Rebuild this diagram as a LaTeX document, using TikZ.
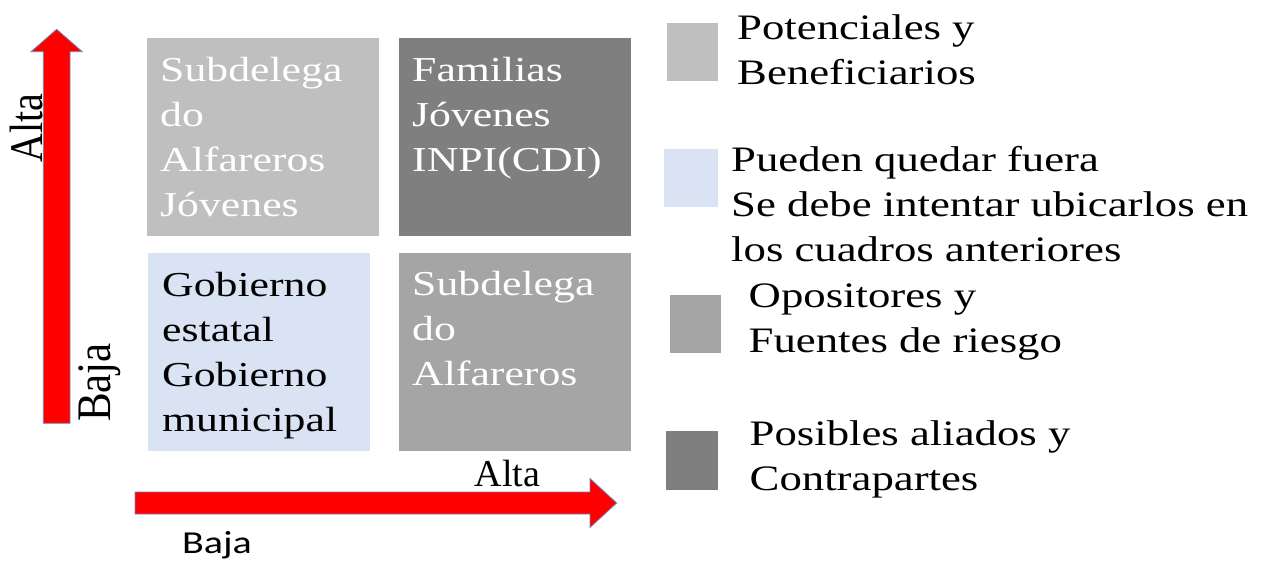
\documentclass[tikz,border=0pt]{standalone}
\usepackage{fontspec}
\setmainfont{Liberation Serif}[FakeStretch=1.25]
\newfontfamily\plainserif{Liberation Serif}
\newfontfamily\calib{Carlito}[FakeStretch=1.25]
\definecolor{gLight}{HTML}{BFBFBF}
\definecolor{gMid}{HTML}{A5A5A5}
\definecolor{gDark}{HTML}{7F7F7F}
\definecolor{bPale}{HTML}{DAE3F3}
\definecolor{arrowRed}{HTML}{FF0000}
\definecolor{arrowLine}{HTML}{6F86BF}
\begin{document}
\begin{tikzpicture}[x=1pt,y=-1pt,
  cell/.style={inner sep=0pt, outer sep=0pt, anchor=north west},
  boxtext/.style={anchor=north west, inner sep=0pt, align=left, font=\fontsize{35}{45}\selectfont},
  legtext/.style={anchor=north west, inner sep=0pt, align=left, font=\fontsize{35.8}{45}\selectfont, text=black},
  axisarrow/.style={fill=arrowRed, draw=arrowLine, line width=0.8pt, line join=miter}
]
\useasboundingbox (0,0) rectangle (1264,562);

% quadrant boxes
\node[cell, fill=gLight, minimum width=232.3pt, minimum height=197.7pt] (tl) at (146.7,38.3) {};
\node[cell, fill=gDark, minimum width=232.6pt, minimum height=197.7pt] (tr) at (398.7,38.3) {};
\node[cell, fill=bPale, minimum width=222.3pt, minimum height=197.7pt] (bl) at (147.7,253.3) {};
\node[cell, fill=gMid, minimum width=232.6pt, minimum height=197.7pt] (br) at (398.7,253.3) {};

\node[boxtext, text=white] (tlt) at (160,50.2) {\strut Subdelega\\do\\Alfareros\\Jóvenes};
\node[boxtext, text=white] (trt) at (412,50.2) {\strut Familias\\Jóvenes\\INPI(CDI)};
\node[boxtext, text=black] (blt) at (162,265.2) {\strut Gobierno\\estatal\\Gobierno\\municipal};
\node[boxtext, text=white] (brt) at (412,263.5) {\strut Subdelega\\do\\Alfareros};

% legend
\node[cell, fill=gLight, minimum width=51.6pt, minimum height=58pt] (s1) at (666.7,22.7) {};
\node[cell, fill=bPale, minimum width=54pt, minimum height=57.7pt] (s2) at (664.3,149) {};
\node[cell, fill=gMid, minimum width=50.7pt, minimum height=57.7pt] (s3) at (670,295) {};
\node[cell, fill=gDark, minimum width=52.6pt, minimum height=58.7pt] (s4) at (665.7,431.3) {};

\node[legtext] (l1) at (737,8) {\strut Potenciales y\\Beneficiarios};
\node[legtext] (l2) at (731,139.5) {\strut Pueden quedar fuera\\Se debe intentar ubicarlos en\\los cuadros anteriores};
\node[legtext] (l3) at (748.5,275.8) {\strut Opositores y\\Fuentes de riesgo};
\node[legtext] (l4) at (749.5,413.5) {\strut Posibles aliados y\\Contrapartes};

% axes
\draw[axisarrow] (43.3,423.3) -- (43.3,51.7) -- (31,51.7) -- (56.65,29.3) -- (82.3,51.7) -- (70,51.7) -- (70,423.3) -- cycle;
\draw[axisarrow] (135,492) -- (590,492) -- (590,478.5) -- (616.7,503) -- (590,527.5) -- (590,514) -- (135,514) -- cycle;

\node[inner sep=0pt, rotate=90, anchor=base] (valta) at (42.7,128.3)
  {\scalebox{1}[1.17]{\plainserif\fontsize{40}{48}\selectfont Alta}};
\node[inner sep=0pt, rotate=90, anchor=base] (vbaja) at (110,382.5)
  {\scalebox{1}[1.12]{\plainserif\fontsize{43}{50}\selectfont Baja}};
\node[inner sep=0pt, anchor=base west] (halta) at (474.4,486.7)
  {\plainserif\fontsize{38}{45}\selectfont Alta};
\node[inner sep=0pt, anchor=base west] (hbaja) at (182,553.3)
  {\calib\fontsize{32}{38}\selectfont Baja};
\end{tikzpicture}
\end{document}
